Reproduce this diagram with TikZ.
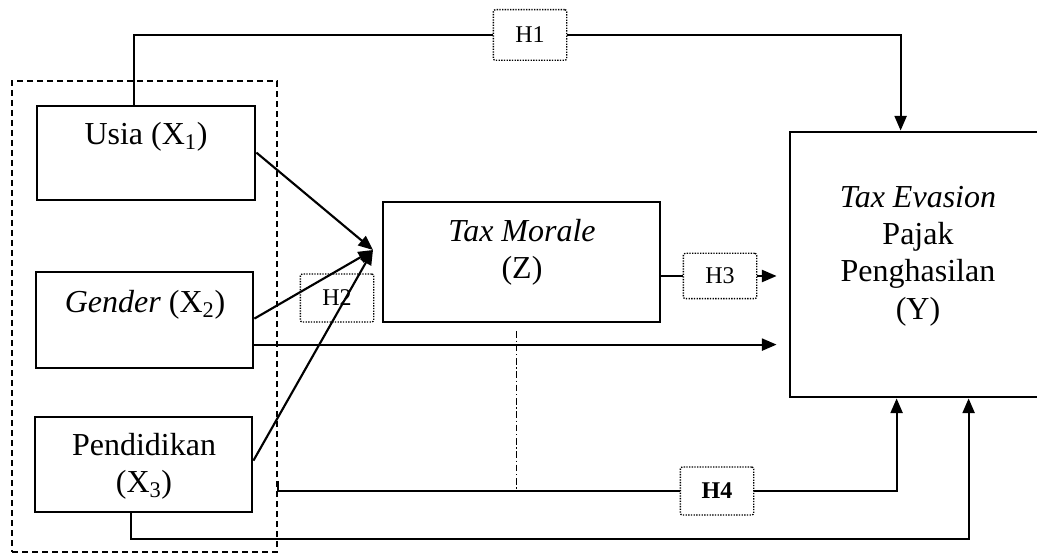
\documentclass[tikz,border=0pt]{standalone}
\usepackage{fontspec}
\setmainfont{Liberation Serif}
\usetikzlibrary{arrows.meta,fit,calc}
\begin{document}
\begin{tikzpicture}[x=0.75pt,y=-0.75pt,
  box/.style={draw, line width=2.1pt, inner sep=0pt},
  grpbox/.style={draw, line width=1.7pt, dash pattern=on 4.5pt off 3pt, inner sep=0pt},
  txt/.style={font=\fontsize{24}{28}\selectfont, align=center, inner sep=0pt},
  hyp/.style={draw, densely dotted, line width=1pt, rounded corners=1.5pt, minimum width=55pt, minimum height=36pt, inner sep=0pt, font=\fontsize{18}{20}\selectfont},
  conn/.style={line width=1.6pt},
  arr/.style={conn, -{Triangle[length=11pt,width=9pt]}},
  dashdotline/.style={line width=1.4pt, dash pattern=on 5pt off 2pt on 1pt off 2pt},
]
\path[use as bounding box] (0,0) rectangle (1037,555);
\clip (0,0) rectangle (1037,555);

% dashed group
\node[grpbox, fit={(12,81) (277,552)}] (grp) {};

% boxes
\node[box, fit={(37,106) (255,200)}] (usia) {};
\node[txt] (usiaT) at (146,137) {Usia (X\textsubscript{1})};
\node[box, fit={(36,272) (253,368)}] (gender) {};
\node[txt] (genderT) at (145,305) {\textit{Gender} (X\textsubscript{2})};
\node[box, fit={(35,417) (252,512)}] (pend) {};
\node[txt] (pendT) at (144,466) {Pendidikan\\(X\textsubscript{3})};
\node[box, fit={(383,202) (660,322)}] (tm) {};
\node[txt] (tmT) at (522,252) {\textit{Tax Morale}\\(Z)};
\node[box, fit={(790,132) (1046,397)}] (yb) {};
\node[txt] (ybT) at (918,256) {\textit{Tax Evasion}\\Pajak\\Penghasilan\\(Y)};

% hypothesis labels
\node[hyp, minimum height=38pt] (h1) at (530,35) {H1};
\node[hyp] (h2) at (337,298) {H2};
\node[hyp, minimum height=34pt] (h3) at (720,276) {H3};
\node[hyp] (h4) at (717,491) {\textbf{H4}};

% H1 path
\draw[conn] ($(usia.north west)+(98,0)$) |- (h1.west);
\draw[arr] (h1.east) -| ($(yb.north west)+(112,0)$);

% to Tax Morale
\coordinate (conv) at (373,250);
\draw[arr] ($(usia.north east)+(0,48)$) -- (conv);
\draw[arr] ($(gender.north east)+(0,48)$) -- (conv);
\draw[arr] ($(pend.north east)+(0,45)$) -- (conv);

% Gender to Y
\coordinate (yin) at ($(yb.north west)+(-12,0)$);
\coordinate (gy) at ($(gender.north east)+(0,74)$);
\draw[arr] (gy) -- (gy -| yin);

% H3
\draw[conn] (tm.east |- h3.west) -- (h3.west);
\draw[arr] (h3.east) -- (h3.east -| yin);

% H4
\draw[conn] ($(grp.north east)+(0,401)$) |- (h4.west);
\draw[arr] (h4.east) -| ($(yb.south west)+(108,0)$);
\coordinate (dd) at ($(tm.south)+(-5,8)$);
\draw[dashdotline] (dd) -- (dd |- h4.west);

% bottom path
\coordinate (pb) at ($(pend.south west)+(97,0)$);
\draw[arr] (pb) -- ++(0,26) -| ($(yb.south west)+(180,0)$);
\end{tikzpicture}
\end{document}
